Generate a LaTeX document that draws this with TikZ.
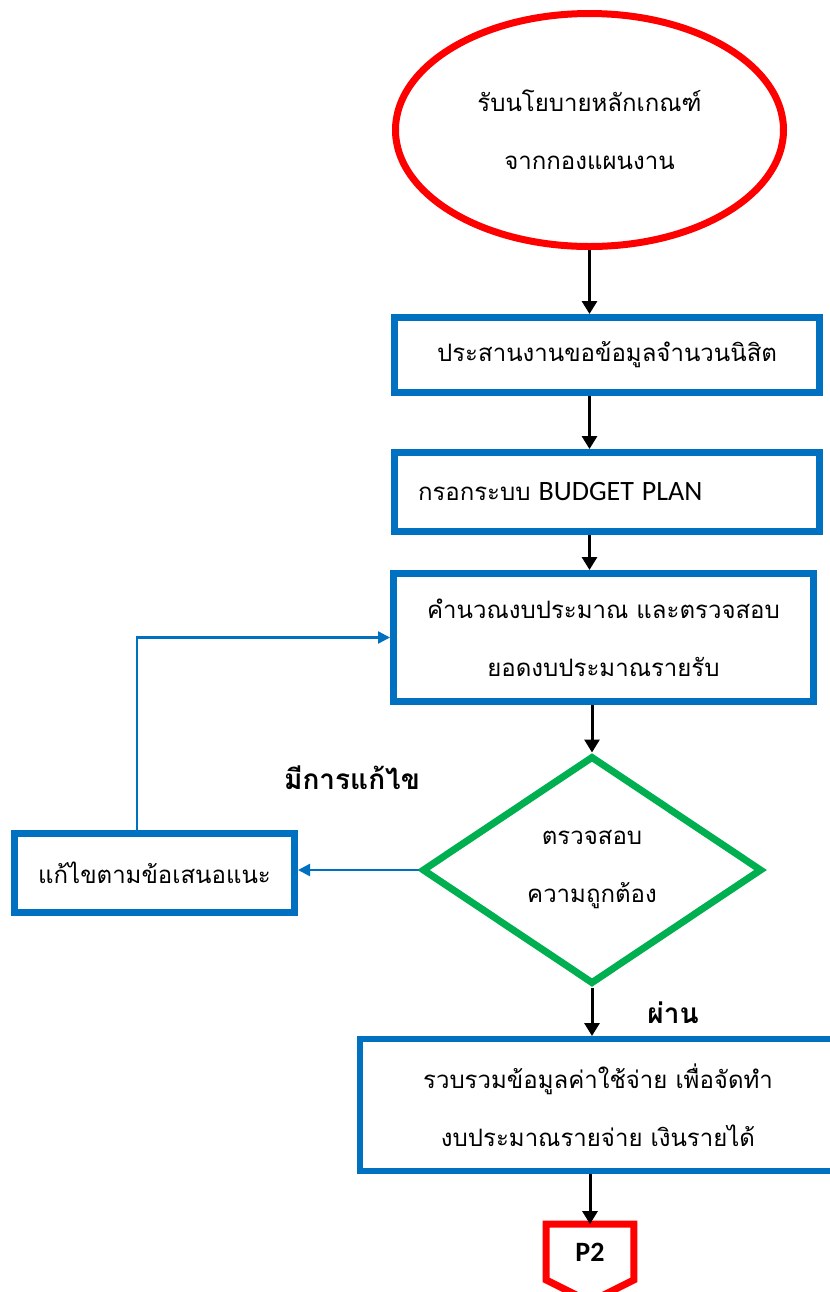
\documentclass[tikz,border=0pt]{standalone}
\usepackage{fontspec}
\newfontfamily\thai[Script=Thai]{Loma}
\newfontfamily\calib{Carlito}
\usetikzlibrary{arrows.meta,shapes.geometric}
\definecolor{boxblue}{HTML}{0070C0}
\definecolor{okgreen}{HTML}{00B050}

\begin{document}
\begin{tikzpicture}[x=0.5pt,y=-0.5pt,
  txt/.style={font=\thai\fontsize{12}{29}\selectfont,align=center},
  bx/.style={txt,draw=boxblue,line width=3.5pt,inner sep=0pt},
  lbl/.style={font=\thai\bfseries\fontsize{14}{16}\selectfont},
  flow/.style={-{Triangle[width=7.5pt,length=6.5pt]},line width=1.5pt},
  back/.style={-{Triangle[width=6pt,length=6pt]},line width=1.2pt,draw=boxblue}]
\useasboundingbox (0,0) rectangle (830,1292);
\node[txt,ellipse,draw=red,line width=3.5pt,minimum width=194pt,minimum height=116.5pt] (start) at (589.5,130)
  {รับนโยบายหลักเกณฑ์\\จากกองแผนงาน};
\node[bx,minimum width=212.5pt,minimum height=37.5pt] (b1) at (607,355) {ประสานงานขอข้อมูลจำนวนนิสิต};
\node[bx,minimum width=212.5pt,minimum height=39.5pt,inner xsep=11.75pt,text width=189pt,align=left] (b2) at (607,492)
  {กรอกระบบ {\calib\fontsize{14}{16}\selectfont BUDGET PLAN}};
\node[bx,minimum width=210pt,minimum height=64pt] (b3) at (603.5,637.5) {คำนวณงบประมาณ และตรวจสอบ\\ยอดงบประมาณรายรับ};
\node[txt,diamond,draw=okgreen,line width=3.5pt,inner sep=0pt,minimum width=170pt,minimum height=114pt] (chk) at (592,870)
  {ตรวจสอบ\\ความถูกต้อง};
\node[bx,minimum width=140pt,minimum height=39.5pt] (b4) at (154.5,873) {แก้ไขตามข้อเสนอแนะ};
\node[bx,line width=3pt,minimum width=238pt,minimum height=66pt] (b5) at (598,1105)
  {รวบรวมข้อมูลค่าใช้จ่าย เพื่อจัดทำ\\งบประมาณรายจ่าย เงินรายได้};
\node[minimum width=43.5pt,minimum height=27.5pt,inner sep=0pt,font=\calib\bfseries\fontsize{14}{16}\selectfont] (p2) at (590,1252) {P2};
\draw[red,line width=3.5pt] (p2.south west) -- (p2.north west) -- (p2.north east) -- (p2.south east) -- ([yshift=-11pt]p2.south) -- cycle;
\node[lbl] (fix) at (352,778) {มีการแก้ไข};
\node[lbl] (pass) at (673,1013) {ผ่าน};

\draw[flow] (start.south) -- (start.south |- b1.north);
\draw[flow] (start.south |- b1.south) -- (start.south |- b2.north);
\draw[flow] (start.south |- b2.south) -- (start.south |- b3.north);
\draw[flow] (chk.north |- b3.south) -- (chk.north);
\draw[flow] (chk.south) -- (chk.south |- b5.north);
\draw[flow] (p2.north |- b5.south) -- (p2.north);
\draw[back] (chk.west) -- (chk.west -| b4.east);
\draw[back] ([xshift=-8.75pt]b4.north) |- (b3.west);
\end{tikzpicture}
\end{document}
